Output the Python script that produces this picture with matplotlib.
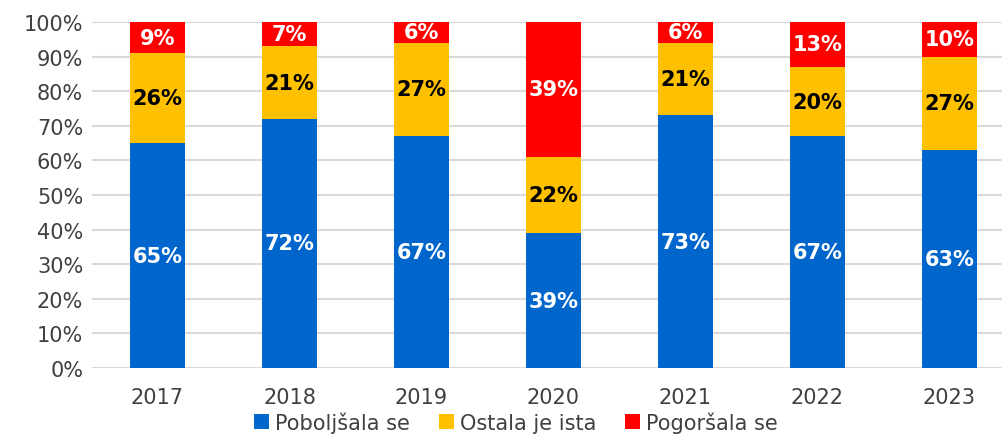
import matplotlib
matplotlib.use("Agg")
import matplotlib.pyplot as plt
import numpy as np
from matplotlib.patches import Patch

years = ["2017", "2018", "2019", "2020", "2021", "2022", "2023"]
improved = [65, 72, 67, 39, 73, 67, 63]
same = [26, 21, 27, 22, 21, 20, 27]
worse = [9, 7, 6, 39, 6, 13, 10]
series_names = ["Poboljšala se", "Ostala je ista", "Pogoršala se"]
colors = ["#0066CC", "#FFC000", "#FF0000"]
label_colors = ["white", "black", "white"]

plt.rcParams['font.family'] = ['DejaVu Sans']

fig = plt.figure(figsize=(10.02, 4.35), dpi=100)
ax = fig.add_axes([91.5/1002, 66/435, 924/1002, 346/435])

x = np.arange(len(years))
width = 0.42
bottom = np.zeros(len(years))
for vals, col, lc in zip([improved, same, worse], colors, label_colors):
    vals = np.array(vals, dtype=float)
    ax.bar(x, vals, width, bottom=bottom, color=col, zorder=3)
    for xi, b, v in zip(x, bottom, vals):
        ax.text(xi, b + v / 2, f"{int(v)}%", ha="center", va="center",
                color=lc, fontsize=15, fontweight="bold", zorder=4)
    bottom += vals

ax.set_xlim(-0.5, len(years) - 0.5)
ax.set_ylim(0, 100)
ax.set_yticks(np.arange(0, 101, 10))
ax.set_yticklabels([f"{t}%" for t in range(0, 101, 10)])
ax.set_xticks(x)
ax.set_xticklabels(years)
ax.tick_params(axis="both", length=0, labelsize=15, colors="#404040")
ax.tick_params(axis="y", pad=6)
ax.tick_params(axis="x", pad=14)
ax.yaxis.grid(True, color="#D9D9D9", linewidth=1.5, zorder=0)
for s in ax.spines.values():
    s.set_visible(False)

handles = [Patch(facecolor=c, label=n) for c, n in zip(colors, series_names)]
fig.legend(handles=handles, loc="center", bbox_to_anchor=(516/1002, 1 - 423/435),
           ncol=3, frameon=False, fontsize=15, handlelength=0.7, handleheight=0.7,
           handletextpad=0.3, columnspacing=1.4, borderpad=0)
for t in fig.legends[0].get_texts():
    t.set_color("#404040")

fig.savefig("out.png", dpi=100)
